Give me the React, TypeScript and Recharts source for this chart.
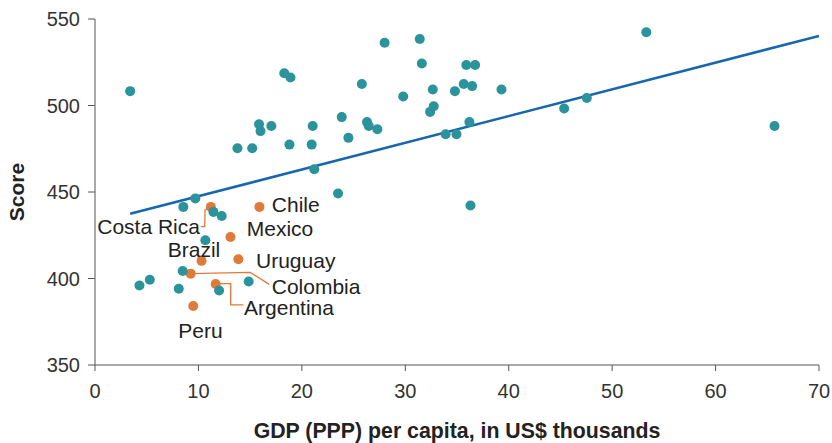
import { ScatterChart, Scatter, XAxis, YAxis, Label } from 'recharts'

// GDP per capita (US$ thousands) and score, other countries
const otherGdp = [
  3.4, 18.3, 18.9, 25.8, 15.86, 16.0, 17.05, 21.05, 23.86, 24.5, 13.77, 15.2, 18.8, 20.95, 21.2, 23.5, 9.7,
  28.0, 31.4, 31.6, 35.9, 36.75, 35.65, 36.46, 32.66, 39.3, 34.8, 29.8, 32.75, 32.4, 26.3, 26.47, 27.3,
  36.2, 33.9, 34.95, 45.36, 47.55, 53.3, 65.7, 36.3, 8.54, 11.45, 12.25, 10.67, 8.48, 5.3, 4.3, 8.1, 12.0, 14.86,
]
const otherScore = [
  508.3, 518.6, 516.2, 512.4, 489.2, 485.2, 488.2, 488.2, 493.3, 481.3, 475.3, 475.3, 477.4, 477.4, 463.2, 449.1, 446.3,
  536.3, 538.4, 524.3, 523.4, 523.4, 512.4, 511.2, 509.3, 509.3, 508.3, 505.2, 499.6, 496.3, 490.4, 488.1, 486.3,
  490.4, 483.4, 483.4, 498.3, 504.3, 542.3, 488.2, 442.2, 441.4, 438.5, 436.1, 422.1, 404.3, 399.3, 396, 394.1, 393.1, 398.3,
]

// Latin American countries
const latamNames = ['Costa Rica', 'Chile', 'Mexico', 'Brazil', 'Uruguay', 'Colombia', 'Argentina', 'Peru']
const latamGdp = [11.2, 15.9, 13.1, 10.3, 13.86, 9.25, 11.67, 9.5]
const latamScore = [441.4, 441.4, 424, 410.2, 411.1, 402.8, 396.8, 384.1]

// label anchor points (data coords)
const labelX = [10.15, 17.1, 14.67, 7.03, 15.57, 17.09, 14.41, 8.06]
const labelY = [430.3, 442.9, 428.8, 416.9, 410.5, 395.4, 383.5, 370]
const labelAnchor = ['end', 'start', 'start', 'start', 'start', 'start', 'start', 'start']

// leader lines
const costaRicaLeader = [[11.2, 441.4], [10.64, 439.6], [10.61, 430.0], [10.22, 430.0]]
const colombiaLeader = [[9.25, 402.8], [15.0, 403.5], [16.85, 396.6]]
const argentinaLeader = [[11.67, 397.0], [13.12, 397.0], [13.12, 384.7], [14.34, 384.7]]

// trend line
const trendX = [3.4, 70]
const trendY = [437.4, 540.2]

const xTicks = [0, 10, 20, 30, 40, 50, 60, 70]
const yTicks = [350, 400, 450, 500, 550]

const TEAL = '#2a939c'
const ORANGE = '#e07a3a'
const BLUE = '#1766ae'
const AXIS = '#555'
const FONT = '"Liberation Sans", Arial, sans-serif'

const others = otherGdp.map((x, i) => ({ x, y: otherScore[i] }))
const latam = latamGdp.map((x, i) => ({ x, y: latamScore[i], name: latamNames[i] }))
const labels = labelX.map((x, i) => ({ x, y: labelY[i], name: latamNames[i], anchor: labelAnchor[i] }))
const trend = trendX.map((x, i) => ({ x, y: trendY[i] }))
const toPts = (arr: number[][]) => arr.map(([x, y]) => ({ x, y }))

const noDot = () => <g />

export default function App() {
  return (
    <div style={{ position: 'absolute', left: 0, top: 0 }}>
      <ScatterChart width={832} height={443} margin={{ top: 19, right: 13, left: 0, bottom: 0 }}>
        <XAxis
          type="number"
          dataKey="x"
          domain={[0, 70]}
          ticks={xTicks}
          height={78}
          tickSize={6}
          tickMargin={13}
          stroke={AXIS}
          tick={{ fill: '#333', fontSize: 20, fontFamily: FONT }}
          allowDataOverflow
        >
          <Label
            value="GDP (PPP) per capita, in US$ thousands"
            position="insideBottom"
            offset={5}
            style={{ fill: '#222', fontSize: 21.3, fontWeight: 'bold', fontFamily: FONT }}
          />
        </XAxis>
        <YAxis
          type="number"
          dataKey="y"
          domain={[350, 550]}
          ticks={yTicks}
          width={95}
          tickSize={7}
          tickMargin={8}
          stroke={AXIS}
          tick={{ fill: '#333', fontSize: 20, fontFamily: FONT }}
          allowDataOverflow
        >
          <Label
            content={(props: any) => {
              const vb = props.viewBox
              const cx = vb.x + 16
              const cy = vb.y + vb.height / 2
              return (
                <text
                  x={cx}
                  y={cy}
                  transform={`rotate(-90 ${cx} ${cy})`}
                  textAnchor="middle"
                  dominantBaseline="central"
                  fill="#222"
                  fontSize={21}
                  fontWeight="bold"
                  fontFamily={FONT}
                >
                  Score
                </text>
              )
            }}
          />
        </YAxis>

        <Scatter data={trend} line={{ stroke: BLUE, strokeWidth: 2.6 }} shape={noDot} isAnimationActive={false} />
        <Scatter data={toPts(costaRicaLeader)} line={{ stroke: ORANGE, strokeWidth: 1.3 }} shape={noDot} isAnimationActive={false} />
        <Scatter data={toPts(colombiaLeader)} line={{ stroke: ORANGE, strokeWidth: 1.3 }} shape={noDot} isAnimationActive={false} />
        <Scatter data={toPts(argentinaLeader)} line={{ stroke: ORANGE, strokeWidth: 1.3 }} shape={noDot} isAnimationActive={false} />

        <Scatter
          data={latam}
          isAnimationActive={false}
          shape={(p: any) => <circle cx={p.cx} cy={p.cy} r={5} fill={ORANGE} />}
        />
        <Scatter
          data={others}
          isAnimationActive={false}
          shape={(p: any) => <circle cx={p.cx} cy={p.cy} r={5} fill={TEAL} />}
        />
        <Scatter
          data={labels}
          isAnimationActive={false}
          shape={(p: any) => (
            <text
              x={p.cx}
              y={p.cy}
              textAnchor={p.payload.anchor}
              dominantBaseline="central"
              fill="#222"
              fontSize={21}
              fontFamily={FONT}
            >
              {p.payload.name}
            </text>
          )}
        />
      </ScatterChart>
    </div>
  )
}
